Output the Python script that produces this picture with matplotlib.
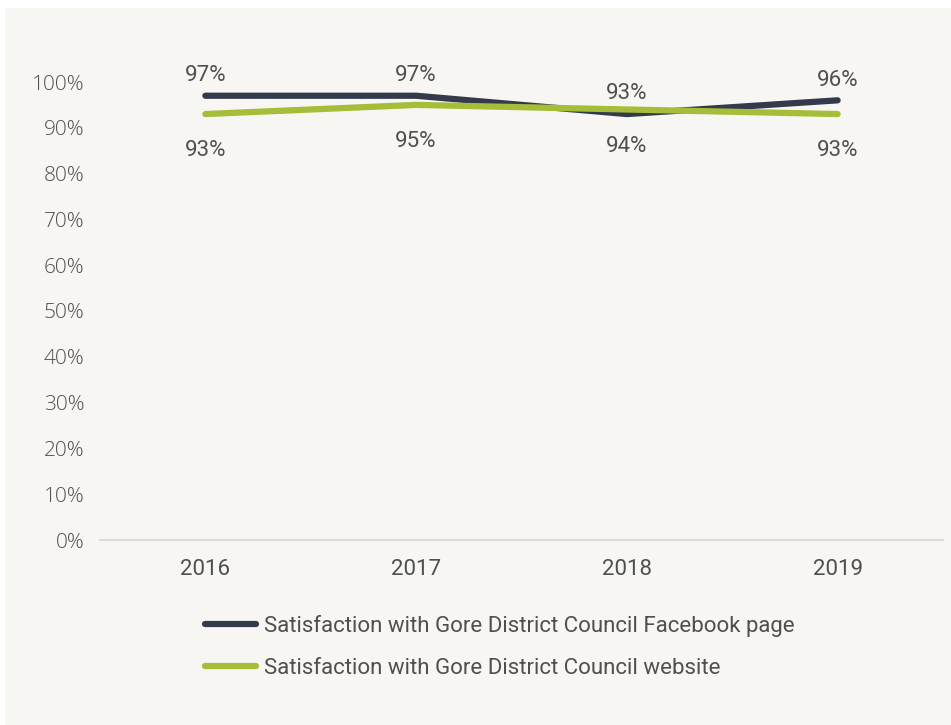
import numpy as np
import matplotlib.pyplot as plt
from matplotlib.patches import Rectangle

years = ["2016", "2017", "2018", "2019"]
facebook = [97, 97, 93, 96]
website = [93, 95, 94, 93]
y_ticks = [0, 10, 20, 30, 40, 50, 60, 70, 80, 90, 100]

label_fb = "Satisfaction with Gore District Council Facebook page"
label_web = "Satisfaction with Gore District Council website"

bg = "#f7f6f2"
dark = "#333a4b"
green = "#a5bd38"
text_col = "#4f4f4f"
narrow = ["Roboto", "DejaVu Sans"]

fig = plt.figure(figsize=(9.51, 7.25), dpi=100)
fig.patch.set_facecolor("white")
fig.patches.append(Rectangle((5 / 951, 0), 946 / 951, 717 / 725,
                             transform=fig.transFigure, facecolor=bg,
                             edgecolor="none", zorder=-1))

# axes: x 100..943 px, y 0% at 540 px, 100% at 82 px
ax = fig.add_axes([100 / 951, (725 - 540) / 725, 843 / 951, 458 / 725])
ax.set_facecolor("none")

x = np.arange(len(years))
ax.plot(x, facebook, color=dark, lw=4.5, solid_capstyle="round", label=label_fb, zorder=3)
ax.plot(x, website, color=green, lw=4.5, solid_capstyle="round", label=label_web, zorder=3)

for i in range(len(years)):
    ax.annotate(f"{facebook[i]}%", (x[i], facebook[i]), xytext=(0, 7),
                textcoords="offset points", ha="center", va="bottom",
                fontsize=16, color=text_col, family=narrow)
    ax.annotate(f"{website[i]}%", (x[i], website[i]), xytext=(0, -19),
                textcoords="offset points", ha="center", va="top",
                fontsize=16, color=text_col, family=narrow)

ax.set_xlim(-0.5, 3.5)
ax.set_ylim(0, 100)
ax.set_yticks(y_ticks)
ax.set_yticklabels([f"{v}%" for v in y_ticks], fontsize=15, color=text_col,
                   family=["Open Sans", "DejaVu Sans"], fontweight="light")
ax.set_xticks(x)
ax.set_xticklabels(years, fontsize=16, color=text_col, family=narrow)
ax.tick_params(axis="both", length=0)
ax.tick_params(axis="y", pad=11)
ax.tick_params(axis="x", pad=14)

for s in ["top", "right", "left"]:
    ax.spines[s].set_visible(False)
ax.spines["bottom"].set_color("#d9dbdb")
ax.spines["bottom"].set_linewidth(1.5)

leg = ax.legend(loc="upper left", bbox_to_anchor=(0.101, -0.12), frameon=False,
                handlelength=2.3, handletextpad=0.35, labelspacing=0.95,
                prop={"family": narrow, "size": 16})
for t in leg.get_texts():
    t.set_color(text_col)

fig.savefig("out.png", dpi=100, facecolor=fig.get_facecolor())
